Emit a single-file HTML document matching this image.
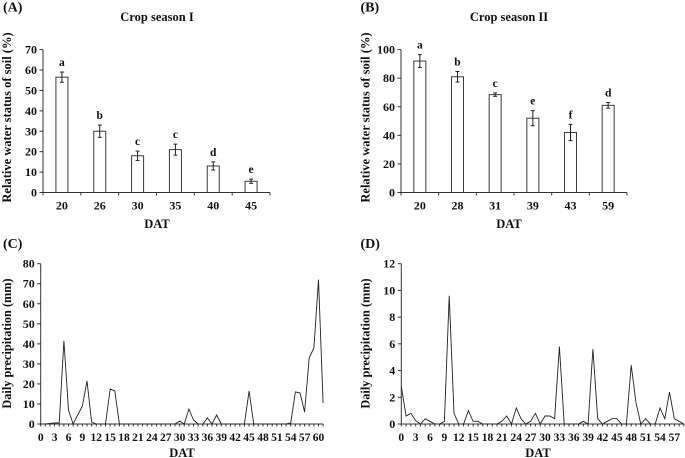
<!DOCTYPE html>
<html>
<head>
<meta charset="utf-8">
<style>
html,body{margin:0;padding:0;background:#fff;width:685px;height:458px;overflow:hidden}
svg{display:block;font-family:"Liberation Serif",serif;font-weight:bold;fill:#111;filter:blur(0.35px)}
text{fill:#111}
</style>
</head>
<body>
<svg id="chart" width="685" height="458" viewBox="0 0 685 458" xmlns="http://www.w3.org/2000/svg"></svg>
<script>
const catsA = ['20','26','30','35','40','45'];
const valsA = [56.5,30,18,21,13,5.5];
const errsA = [2.5,3,2.3,2.7,2,1];
const lettersA = ['a','b','c','c','d','e'];
const ticksA = [0,10,20,30,40,50,60,70];

const catsB = ['20','28','31','39','43','59'];
const valsB = [92,81,68.5,52,42,61];
const errsB = [4.5,3.7,1.2,5.3,5.7,2];
const lettersB = ['a','b','c','e','f','d'];
const ticksB = [0,20,40,60,80,100];

const rainC = [0,0,0.3,0.6,0.5,41.5,7,0,4.5,9,21.5,1,0,0,0,17.5,16.5,0,0,0,0,0,0,0,0,0,0,0,0,0,1.5,0,7.5,2,0,0,3,0,4.5,0,0,0,0,0,0,16.5,0,0,0,0,0,0,0,0,0.5,16,15.5,6,33,38,72,10.5];
const ticksC = [0,10,20,30,40,50,60,70,80];
const rainD = [2.8,0.6,0.8,0.25,0,0.4,0.2,0,0,0.2,9.6,0.8,0,0,1,0.2,0.2,0,0,0,0,0.2,0.6,0,1.2,0.4,0,0.2,0.8,0,0.6,0.6,0.4,5.8,0,0,0,0,0.2,0,5.6,0.4,0,0.2,0.4,0.4,0,0,4.4,1.6,0,0.4,0,0,1.2,0.4,2.4,0.4,0.2,0];
const ticksD = [0,2,4,6,8,10,12];

const NS = 'http://www.w3.org/2000/svg';
const root = document.getElementById('chart');
function mk(tag, attrs, parent, txt){
  const el = document.createElementNS(NS, tag);
  for (const k in attrs) el.setAttribute(k, attrs[k]);
  if (txt !== undefined) el.textContent = txt;
  (parent || root).appendChild(el);
  return el;
}
function line(x1,y1,x2,y2,name,parent,color,w){
  const el = mk('line',{x1:x1,y1:y1,x2:x2,y2:y2,stroke:color||'#333','stroke-width':w||1},parent);
  
  
  return el;
}
function label(x,y,s,size,name,parent,anchor,rot){
  const a = {x:x,y:y,'font-size':size,'text-anchor':anchor||'middle'};
  if (rot) a.transform = 'rotate(-90 '+x+' '+y+')';
  const el = mk('text',a,parent,s);
  
  
  return el;
}
function yAxis(g, x0, yOf, ticks){
  line(x0, yOf(ticks[0]), x0, yOf(ticks[ticks.length-1]), 'y-axis-line', g);
  ticks.forEach(function(t){
    line(x0-3.5, yOf(t), x0, yOf(t), 'y-tick', g);
    label(x0-6, yOf(t)+4, String(t), 12, 'y-tick-label', g, 'end');
  });
}
function barPanel(o){
  const g = mk('g',{});
  
  
  const base = 192.5, top = 49.6;
  const yOf = function(v){ return base - (v/o.max)*(base-top); };
  const band = (o.x1-o.x0)/o.cats.length;
  const xOf = function(i){ return o.x0 + band*(i+0.5); };
  o.vals.forEach(function(v,i){
    const bar = mk('rect',{x:xOf(i)-6,y:yOf(v),width:12,height:base-yOf(v),fill:'#fff',stroke:'#3a3a3a','stroke-width':1},g);
    
    
    const e = o.errs[i], c = xOf(i);
    line(c, yOf(v+e), c, yOf(v-e), 'error-bar', g, '#222');
    line(c-2, yOf(v+e), c+2, yOf(v+e), 'error-cap', g, '#222');
    line(c-2, yOf(v-e), c+2, yOf(v-e), 'error-cap', g, '#222');
    label(c, yOf(v+e)-6, o.letters[i], 11.5, 'significance-letter', g);
    label(c, 209.5, o.cats[i], 12, 'x-tick-label', g);
  });
  line(o.x0, base, o.x1, base, 'x-axis-line', g);
  for (let i=0;i<=o.cats.length;i++){
    line(o.x0+band*i, base, o.x0+band*i, base+3, 'x-tick', g);
  }
  yAxis(g, o.x0, yOf, o.ticks);
  label(o.tx, 21, o.title, 12.5, 'chart-title', g);
  label(o.dx, 228, 'DAT', 12.5, 'x-axis-title', g);
  label(o.yx, 117.5, 'Relative water status of soil (%)', 12.5, 'y-axis-title', g, 'middle', true);
  label(o.px, 11.5, o.panel, 14, 'panel-label', g, 'start');
}
function linePanel(o){
  const g = mk('g',{});
  
  
  const base = 424, top = 263.7;
  const yOf = function(v){ return base - (v/o.max)*(base-top); };
  const xOf = function(d){ return o.x0 + d*o.step; };
  const n = o.vals.length;
  line(o.x0, base, xOf(n-1), base, 'x-axis-line', g);
  for (let d=0;d<n;d++){
    line(xOf(d), base, xOf(d), base+2.5, 'x-tick', g);
    if (d%3===0) label(xOf(d), 441, String(d), 11.5, 'x-tick-label', g);
  }
  yAxis(g, o.x0, yOf, o.ticks);
  const pts = o.vals.map(function(v,d){ return xOf(d).toFixed(1)+','+yOf(v).toFixed(1); }).join(' ');
  const pl = mk('polyline',{points:pts,fill:'none',stroke:'#222','stroke-width':0.9,'stroke-linejoin':'miter'},g);
  
  
  label(o.tx, 457, 'DAT', 12.5, 'x-axis-title', g);
  label(o.yx, 343.5, 'Daily precipitation (mm)', 12.3, 'y-axis-title', g, 'middle', true);
  label(o.px, 248, o.panel, 14, 'panel-label', g, 'start');
}
barPanel({name:'panel-a',panel:'(A)',title:'Crop season I',cats:catsA,vals:valsA,errs:errsA,letters:lettersA,ticks:ticksA,max:70,x0:43,x1:270,tx:157,dx:157,yx:11,px:3});
barPanel({name:'panel-b',panel:'(B)',title:'Crop season II',cats:catsB,vals:valsB,errs:errsB,letters:lettersB,ticks:ticksB,max:100,x0:401,x1:627,tx:509,dx:509,yx:369.5,px:360.5});
linePanel({name:'panel-c',panel:'(C)',vals:rainC,ticks:ticksC,max:80,x0:40.7,step:4.63,tx:182,yx:11,px:3});
linePanel({name:'panel-d',panel:'(D)',vals:rainD,ticks:ticksD,max:12,x0:401.3,step:4.79,tx:538,yx:369.5,px:360.5});
</script>
</body>
</html>
